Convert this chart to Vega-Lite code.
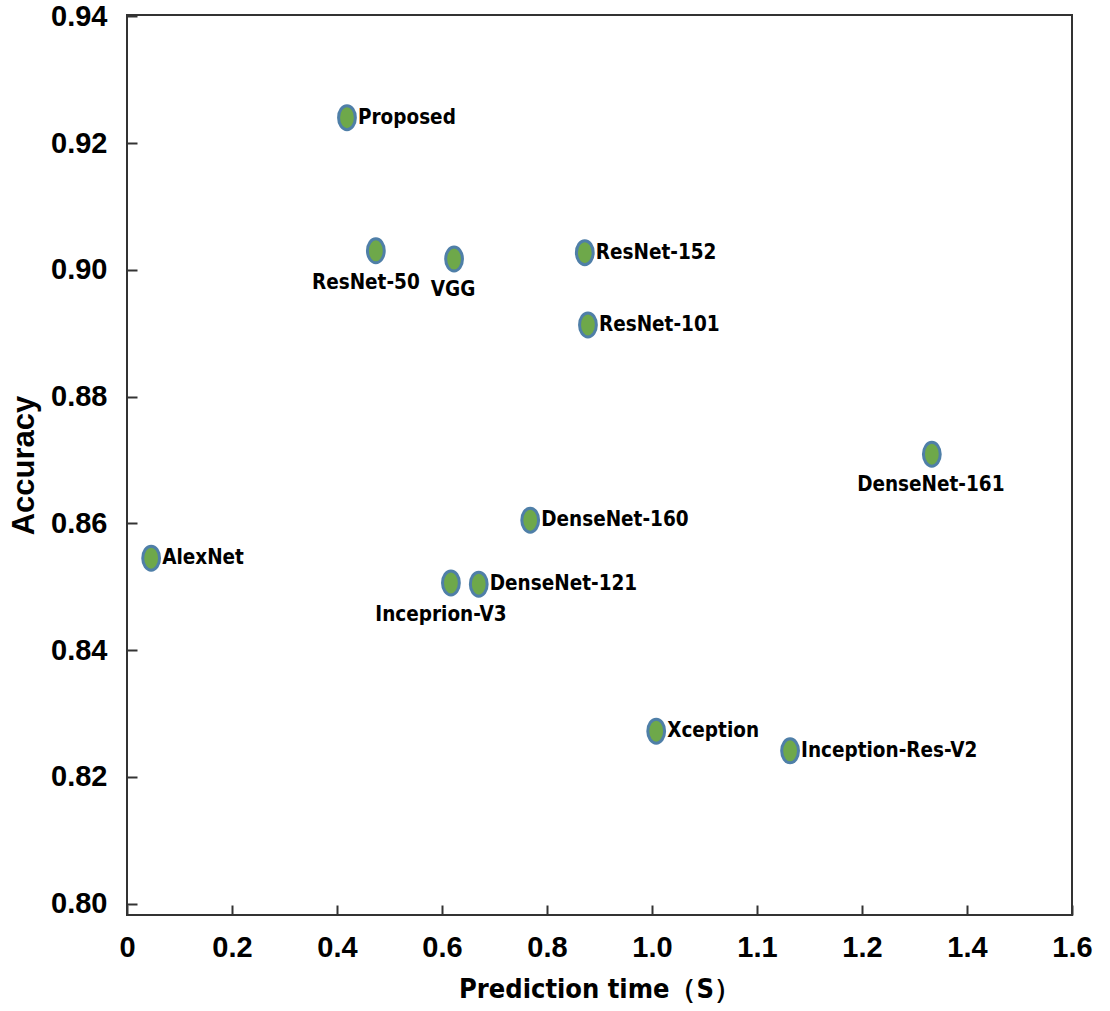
{
  "$schema": "https://vega.github.io/schema/vega-lite/v6.json",
  "width": 945,
  "height": 900,
  "autosize": "none",
  "padding": {"left": 127, "top": 15, "right": 38, "bottom": 96},
  "background": "white",
  "config": {
    "view": {"stroke": "#333333", "strokeWidth": 2},
    "axis": {
      "grid": false,
      "domain": false,
      "tickColor": "#333333",
      "tickWidth": 2,
      "tickSize": -10,
      "labelFont": "Liberation Sans",
      "labelFontWeight": "bold",
      "labelFontSize": 29,
      "labelColor": "#000000",
      "titleFont": "DejaVu Sans Condensed, Liberation Sans",
      "titleFontWeight": "bold",
      "titleColor": "#000000"
    }
  },
  "data": {
    "values": [
      {"model": "Proposed", "time": 0.419, "accuracy": 0.924},
      {"model": "ResNet-50", "time": 0.474, "accuracy": 0.903},
      {"model": "VGG", "time": 0.623, "accuracy": 0.9017},
      {"model": "ResNet-152", "time": 0.872, "accuracy": 0.9027},
      {"model": "ResNet-101", "time": 0.878, "accuracy": 0.8913},
      {"model": "DenseNet-161", "time": 1.333, "accuracy": 0.8709},
      {"model": "DenseNet-160", "time": 0.768, "accuracy": 0.8605},
      {"model": "AlexNet", "time": 0.046, "accuracy": 0.8545},
      {"model": "Inceprion-V3", "time": 0.617, "accuracy": 0.8506},
      {"model": "DenseNet-121", "time": 0.67, "accuracy": 0.8504},
      {"model": "Xception", "time": 1.004, "accuracy": 0.8272},
      {"model": "Inception-Res-V2", "time": 1.1315, "accuracy": 0.8241}
    ]
  },
  "encoding": {
    "x": {
      "field": "time",
      "type": "quantitative",
      "scale": {"domain": [0, 1.0, 1.1, 1.2, 1.4, 1.6], "range": [0, 525, 630, 735, 840, 945], "clamp": false},
      "axis": {
        "values": [0, 0.2, 0.4, 0.6, 0.8, 1.0, 1.1, 1.2, 1.4, 1.6],
        "labelExpr": "datum.value == 0 ? '0' : format(datum.value, '.1f')",
        "labelPadding": 28,
        "labelFlush": false,
        "labelOverlap": false,
        "title": "Prediction time（S）",
        "titleFontSize": 27,
        "titlePadding": 14
      }
    },
    "y": {
      "field": "accuracy",
      "type": "quantitative",
      "scale": {"domain": [0.7982, 0.9402], "nice": false, "zero": false},
      "axis": {
        "values": [0.8, 0.82, 0.84, 0.86, 0.88, 0.9, 0.92, 0.94],
        "format": ".2f",
        "labelPadding": 30,
        "labelFlush": false,
        "labelOverlap": false,
        "title": "Accuracy",
        "titleFont": "Liberation Sans",
        "titleFontSize": 31,
        "titlePadding": 10
      }
    }
  },
  "layer": [
    {
      "mark": {
        "type": "point",
        "shape": "M -0.7 0 A 0.7 1 0 1 0 0.7 0 A 0.7 1 0 1 0 -0.7 0 Z",
        "size": 576,
        "filled": true,
        "fill": "#6ea84a",
        "stroke": "#4f7fa8",
        "strokeWidth": 3,
        "opacity": 1
      }
    },
    {
      "transform": [{"filter": {"field": "model", "oneOf": ["Proposed", "ResNet-152", "ResNet-101", "DenseNet-160", "AlexNet", "DenseNet-121", "Xception", "Inception-Res-V2"]}}],
      "mark": {"type": "text", "align": "left", "baseline": "middle", "dx": 11, "dy": 0, "font": "DejaVu Sans Condensed, Liberation Sans", "fontWeight": "bold", "fontSize": 20.5, "color": "#000000"},
      "encoding": {"text": {"field": "model"}}
    },
    {
      "transform": [{"filter": {"field": "model", "oneOf": ["ResNet-50", "Inceprion-V3"]}}],
      "mark": {"type": "text", "align": "center", "baseline": "middle", "dx": -10, "dy": 32, "font": "DejaVu Sans Condensed, Liberation Sans", "fontWeight": "bold", "fontSize": 20.5, "color": "#000000"},
      "encoding": {"text": {"field": "model"}}
    },
    {
      "transform": [{"filter": {"field": "model", "oneOf": ["VGG", "DenseNet-161"]}}],
      "mark": {"type": "text", "align": "center", "baseline": "middle", "dx": -1, "dy": 31, "font": "DejaVu Sans Condensed, Liberation Sans", "fontWeight": "bold", "fontSize": 20.5, "color": "#000000"},
      "encoding": {"text": {"field": "model"}}
    }
  ]
}
